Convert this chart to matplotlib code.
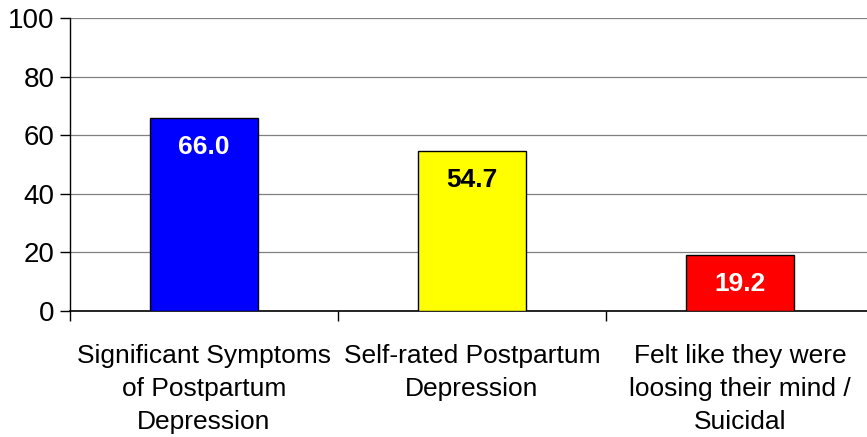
import numpy as np
import matplotlib.pyplot as plt

categories = ["Significant Symptoms\nof Postpartum\nDepression",
              "Self-rated Postpartum\nDepression",
              "Felt like they were\nloosing their mind /\nSuicidal"]
values = [66.0, 54.7, 19.2]
bar_colors = ["#0000ff", "#ffff00", "#ff0000"]
text_colors = ["white", "black", "white"]

plt.rcParams['font.family'] = ['Liberation Sans', 'DejaVu Sans']

fig = plt.figure(figsize=(8.67, 4.37), dpi=100)
# axes runs a bit past the right edge, as in the original
ax = fig.add_axes([70/867, 1 - 311/437, 804/867, 293/437])

xpos = np.arange(len(values))
bars = ax.bar(xpos, values, width=0.4, color=bar_colors,
              edgecolor='black', linewidth=1, zorder=3)

ax.set_xlim(-0.5, 2.5)
ax.set_ylim(0, 100)
ax.set_yticks(np.arange(0, 101, 20))
ax.yaxis.grid(True, color='#808080', linewidth=0.9, zorder=0)
ax.tick_params(axis='y', labelsize=20, length=7, width=1, pad=4, direction='out')

ax.set_xticks([-0.5, 0.5, 1.5, 2.5])
ax.set_xticklabels([])
ax.tick_params(axis='x', length=7, width=1, direction='out')
ax.set_xticks(xpos, minor=True)
ax.set_xticklabels(categories, minor=True, fontsize=19, linespacing=1.47)
ax.tick_params(axis='x', which='minor', length=0, pad=24)

ax.spines['top'].set_visible(False)
ax.spines['right'].set_visible(False)
ax.spines['left'].set_linewidth(1)
ax.spines['bottom'].set_linewidth(1.2)

for x, v, tc in zip(xpos, values, text_colors):
    ax.text(x, v - 10, '%.1f' % v, ha='center', va='center',
            fontsize=19, fontweight='bold', color=tc, zorder=4)

fig.savefig("out.png", dpi=100)
